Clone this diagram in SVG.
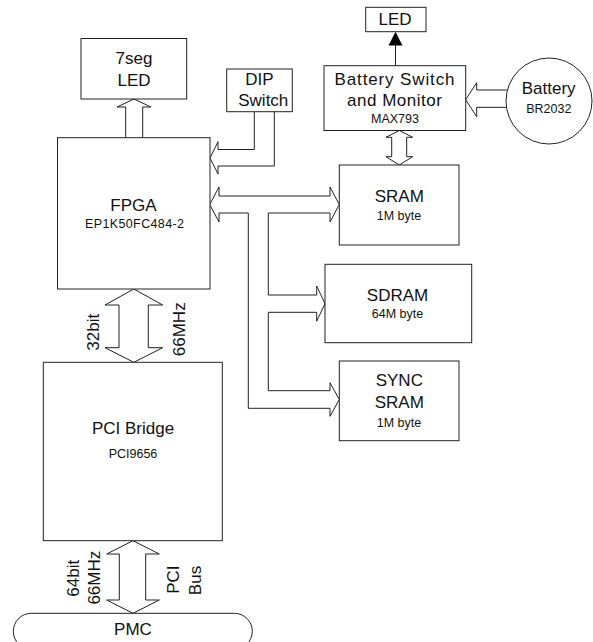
<svg xmlns="http://www.w3.org/2000/svg" width="593" height="642" viewBox="0 0 593 642">
<style>
.box{fill:#fff;stroke:#222;stroke-width:1}
.arr{fill:#fff;stroke:#222;stroke-width:1;stroke-linejoin:miter}
.ln{fill:none;stroke:#222;stroke-width:1}
text{font-family:"Liberation Sans",Arial,sans-serif;fill:#111;text-anchor:middle}
.big{font-size:17px}
.sm{font-size:12.5px}
</style>
<rect width="593" height="642" fill="#fff"/>
<g id="connectors">
  <path class="arr" d="M125.7,137.7 V107 H117 L134,99 L151,107 H142.7 V137.7"/>
  <path class="ln" d="M254.3,111.7 V149.5 H218 V141.7 L210,158 L218,174 V166 H274.3 V111.7"/>
  <path class="arr" d="M219,196 H330 V187 L339.3,204.5 L330,222 V213 H268.3 V295 H316.7 V286 L325,303.6 L316.7,321.2 V312.3 H268.3 V390.7 H330 V382.7 L339.3,399.5 L330,416.3 V408.3 H248.3 V213 H219 V222 L209.7,204.5 L219,187 Z"/>
  <path class="arr" d="M399.3,130.5 L412.7,137.3 H406.7 V156.7 H412.7 L399.3,165 L386,156.7 H391.7 V137.3 H386 Z"/>
  <path class="ln" d="M507.3,90 H476.7 V82.7 L465.7,99.7 L476.7,116.7 V107.3 H506.5"/>
  <line class="ln" x1="395.5" y1="65.7" x2="395.5" y2="45"/>
  <polygon points="388.5,45.5 402.5,45.5 395.5,31.7" fill="#000"/>
  <path class="arr" d="M133.8,289 L162.7,305 H148.3 V347.7 H162.7 L133.8,362.3 L105,347.7 H119 V305 H105 Z"/>
  <path class="arr" d="M133,540.7 L159.3,554 H145.7 V600 H159.3 L133,613.3 L106.7,600 H119.3 V554 H106.7 Z"/>
  <text class="big" transform="translate(99.3,332.2) rotate(-90)">32bit</text>
  <text class="big" transform="translate(185,329.3) rotate(-90)">66MHz</text>
  <text class="big" transform="translate(78.5,578.3) rotate(-90)">64bit</text>
  <text class="big" transform="translate(100,577.7) rotate(-90)">66MHz</text>
  <text class="big" transform="translate(179.3,579.7) rotate(-90)">PCI</text>
  <text class="big" transform="translate(201,580.5) rotate(-90)">Bus</text>
</g>
<g id="seg7">
  <rect class="box" x="81" y="38.5" width="105.7" height="60.5"/>
  <text class="big" x="134" y="64">7seg</text>
  <text class="big" x="134" y="85.7">LED</text>
</g>
<g id="dip">
  <rect class="box" x="226.7" y="69" width="65.6" height="42.7"/>
  <text class="big" x="259.5" y="85">DIP</text>
  <text class="big" x="263.3" y="106">Switch</text>
</g>
<g id="led">
  <rect class="box" x="365.7" y="7.3" width="60.3" height="24.4"/>
  <text class="big" x="395" y="25">LED</text>
</g>
<g id="battsw">
  <rect class="box" x="324" y="65.7" width="141.7" height="64.8"/>
  <text class="big" x="394.5" y="85" textLength="120" lengthAdjust="spacing">Battery  Switch</text>
  <text class="big" x="394.5" y="106" textLength="95" lengthAdjust="spacing">and Monitor</text>
  <text class="sm" x="395" y="123.3">MAX793</text>
</g>
<g id="battery">
  <circle class="box" cx="549" cy="101" r="43"/>
  <text class="big" x="548.7" y="94.3">Battery</text>
  <text class="sm" x="548.8" y="113.3">BR2032</text>
</g>
<g id="fpga">
  <rect class="box" x="57.5" y="137.7" width="152.5" height="151.3"/>
  <text class="big" x="133.5" y="210.7">FPGA</text>
  <text class="sm" x="134.5" y="228.3" textLength="99" lengthAdjust="spacing">EP1K50FC484-2</text>
</g>
<g id="sram">
  <rect class="box" x="339.3" y="165" width="119.7" height="80"/>
  <text class="big" x="399.3" y="201.7">SRAM</text>
  <text class="sm" x="399" y="220">1M byte</text>
</g>
<g id="sdram">
  <rect class="box" x="325" y="264.3" width="146.7" height="78.4"/>
  <text class="big" x="397.5" y="300.7">SDRAM</text>
  <text class="sm" x="397.5" y="317.7">64M byte</text>
</g>
<g id="syncsram">
  <rect class="box" x="339.3" y="361" width="119.7" height="79.7"/>
  <text class="big" x="399.3" y="386">SYNC</text>
  <text class="big" x="399.3" y="408.3">SRAM</text>
  <text class="sm" x="399" y="426.7">1M byte</text>
</g>
<g id="pcibridge">
  <rect class="box" x="43.3" y="362.3" width="179" height="178.4"/>
  <text class="big" x="133" y="434.3">PCI  Bridge</text>
  <text class="sm" x="133" y="457.5">PCI9656</text>
</g>
<g id="pmc">
  <rect class="box" x="13.3" y="613.3" width="239" height="36" rx="18" ry="18"/>
  <text class="big" x="133" y="635">PMC</text>
</g>
</svg>
